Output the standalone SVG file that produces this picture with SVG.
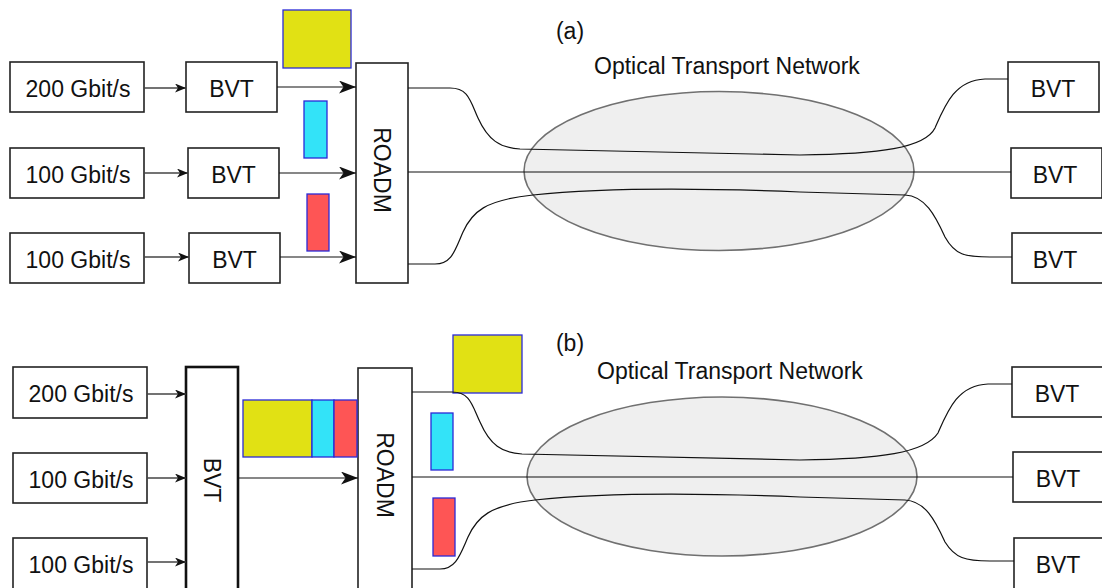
<svg xmlns="http://www.w3.org/2000/svg" width="1102" height="588" viewBox="0 0 1102 588">
  <style>
    text { font-family: "Liberation Sans", Arial, sans-serif; font-size: 23px; fill: #111; }
    .mid { text-anchor: middle; }
    .box { fill: #fff; stroke: #222; stroke-width: 1.6; }
    .bold { fill: #fff; stroke: #111; stroke-width: 2.6; }
    .cloud { fill: #efefef; stroke: #707070; stroke-width: 1.6; }
    .link { fill: none; stroke: #111; stroke-width: 1.2; }
    .feed { fill: none; stroke: #444; stroke-width: 1.4; }
    .y { fill: #e1e114; stroke: #2a2ad8; stroke-width: 1.3; }
    .c { fill: #33e3f8; stroke: #2a2ad8; stroke-width: 1.3; }
    .r { fill: #fe5555; stroke: #2a2ad8; stroke-width: 1.3; }
  </style>
  <defs>
    <marker id="arrowSmall" markerUnits="userSpaceOnUse" markerWidth="11" markerHeight="9" refX="11" refY="4.5" orient="auto">
      <path d="M0,0 L11,4.5 L0,9 L3,4.5 Z" fill="#111"/>
    </marker>
    <marker id="arrowLarge" markerUnits="userSpaceOnUse" markerWidth="17" markerHeight="13" refX="17" refY="6.5" orient="auto">
      <path d="M0,0 L17,6.5 L0,13 L4.5,6.5 Z" fill="#111"/>
    </marker>
  </defs>
  <rect width="1102" height="588" fill="#fff"/>

  <!-- ===== (a) one transceiver per client ===== -->
  <text id="label-a" x="570" y="39" class="mid">(a)</text>
  <text id="otn-a-label" x="594" y="74">Optical Transport Network</text>
  <g id="otn-a"><ellipse cx="719" cy="171" rx="195" ry="79.5" class="cloud"/></g>

  <g id="client-a1"><rect x="10" y="62" width="134" height="50" class="box"/><text x="78" y="96.5" class="mid">200 Gbit/s</text></g>
  <g id="client-a2"><rect x="10" y="148" width="134" height="50" class="box"/><text x="78" y="182.5" class="mid">100 Gbit/s</text></g>
  <g id="client-a3"><rect x="10" y="233" width="134" height="50" class="box"/><text x="78" y="267.5" class="mid">100 Gbit/s</text></g>

  <g id="bvt-a1"><rect x="186" y="62" width="91" height="50" class="box"/><text x="231.5" y="96.5" class="mid">BVT</text></g>
  <g id="bvt-a2"><rect x="188" y="148" width="91" height="50" class="box"/><text x="233.5" y="182.5" class="mid">BVT</text></g>
  <g id="bvt-a3"><rect x="189" y="233" width="91" height="50" class="box"/><text x="234.5" y="267.5" class="mid">BVT</text></g>

  <g id="roadm-a"><rect x="356" y="63" width="52" height="220" class="box"/><text transform="translate(382,170) rotate(90)" x="0" y="8" class="mid">ROADM</text></g>

  <g id="spectrum-a">
    <rect x="283" y="10" width="68" height="58" class="y"/>
    <rect x="304" y="101" width="23" height="57" class="c"/>
    <rect x="307" y="194" width="22" height="57" class="r"/>
  </g>

  <g id="far-bvt-a1"><rect x="1008" y="62" width="91" height="50" class="box"/><text x="1053" y="96.5" class="mid">BVT</text></g>
  <g id="far-bvt-a2"><rect x="1011" y="148" width="91" height="50" class="box"/><text x="1055" y="182.5" class="mid">BVT</text></g>
  <g id="far-bvt-a3"><rect x="1012" y="233" width="91" height="50" class="box"/><text x="1055" y="267.5" class="mid">BVT</text></g>

  <!-- ===== (b) one sliceable transceiver ===== -->
  <text id="label-b" x="570" y="351" class="mid">(b)</text>
  <text id="otn-b-label" x="597" y="379">Optical Transport Network</text>
  <g id="otn-b"><ellipse cx="722" cy="476.5" rx="195" ry="79.5" class="cloud"/></g>

  <g id="client-b1"><rect x="13" y="367" width="134" height="51" class="box"/><text x="81" y="401.5" class="mid">200 Gbit/s</text></g>
  <g id="client-b2"><rect x="13" y="453" width="134" height="50" class="box"/><text x="81" y="487.5" class="mid">100 Gbit/s</text></g>
  <g id="client-b3"><rect x="13" y="538" width="134" height="54" class="box"/><text x="81" y="572.5" class="mid">100 Gbit/s</text></g>

  <g id="bvt-b"><rect x="186" y="367" width="52" height="226" class="bold"/><text transform="translate(212,480) rotate(90)" x="0" y="8" class="mid">BVT</text></g>

  <g id="roadm-b"><rect x="358" y="368" width="54" height="225" class="box"/><text transform="translate(385,475) rotate(90)" x="0" y="8" class="mid">ROADM</text></g>

  <g id="spectrum-b-combined">
    <rect x="243" y="400" width="69" height="57" class="y"/>
    <rect x="312" y="400" width="22" height="57" class="c"/>
    <rect x="334" y="400" width="23" height="57" class="r"/>
  </g>
  <g id="spectrum-b-split">
    <rect x="453" y="335" width="69" height="58" class="y"/>
    <rect x="431" y="413" width="22" height="57" class="c"/>
    <rect x="433" y="498" width="22" height="58" class="r"/>
  </g>

  <g id="far-bvt-b1"><rect x="1012" y="367" width="91" height="50" class="box"/><text x="1057" y="401.5" class="mid">BVT</text></g>
  <g id="far-bvt-b2"><rect x="1013" y="452" width="91" height="50" class="box"/><text x="1058" y="486.5" class="mid">BVT</text></g>
  <g id="far-bvt-b3"><rect x="1014" y="538" width="91" height="54" class="box"/><text x="1058" y="572.5" class="mid">BVT</text></g>

  <!-- ===== connectors ===== -->
  <g id="connectors">
    <!-- (a) clients to transceivers -->
    <line x1="144" y1="88" x2="186" y2="88" class="feed" marker-end="url(#arrowSmall)"/>
    <line x1="144" y1="173" x2="188" y2="173" class="feed" marker-end="url(#arrowSmall)"/>
    <line x1="144" y1="257" x2="189" y2="257" class="feed" marker-end="url(#arrowSmall)"/>
    <!-- (a) transceivers to ROADM -->
    <line x1="277" y1="87" x2="356" y2="87" class="link" marker-end="url(#arrowLarge)"/>
    <line x1="279" y1="173" x2="356" y2="173" class="link" marker-end="url(#arrowLarge)"/>
    <line x1="280" y1="257" x2="356" y2="257" class="link" marker-end="url(#arrowLarge)"/>
    <!-- (a) lightpaths -->
    <path class="link" d="M408,88 L450,88 C468,88 470,100 478,118 C488,140 500,148 520,149 L800,155 C880,154 925,148 935,128 C945,105 955,80 985,79 L1008,79"/>
    <path class="link" d="M408,172 L1011,172"/>
    <path class="link" d="M408,264 L435,264 C452,264 455,250 463,232 C472,212 485,200 533,195 C600,188 700,188 800,192 L905,195 C925,196 935,215 945,237 C955,255 965,257 990,257 L1012,257"/>

    <!-- (b) clients to sliceable transceiver -->
    <line x1="147" y1="394" x2="186" y2="394" class="feed" marker-end="url(#arrowSmall)"/>
    <line x1="147" y1="478" x2="186" y2="478" class="feed" marker-end="url(#arrowSmall)"/>
    <line x1="147" y1="562" x2="186" y2="562" class="feed" marker-end="url(#arrowSmall)"/>
    <!-- (b) transceiver to ROADM -->
    <line x1="238" y1="478" x2="358" y2="478" class="link" marker-end="url(#arrowLarge)"/>
    <!-- (b) lightpaths -->
    <path class="link" d="M412,392 L452,392 C470,392 472,405 480,422 C490,445 502,453 522,454 L800,460 C880,459 925,453 938,433 C948,410 958,385 988,384 L1012,384"/>
    <path class="link" d="M412,477 L1013,477"/>
    <path class="link" d="M412,569 L440,569 C456,569 460,555 468,537 C477,517 490,505 535,500 C600,493 700,493 800,497 L905,500 C925,501 935,520 945,542 C955,558 965,561 990,561 L1014,561"/>
  </g>
</svg>
